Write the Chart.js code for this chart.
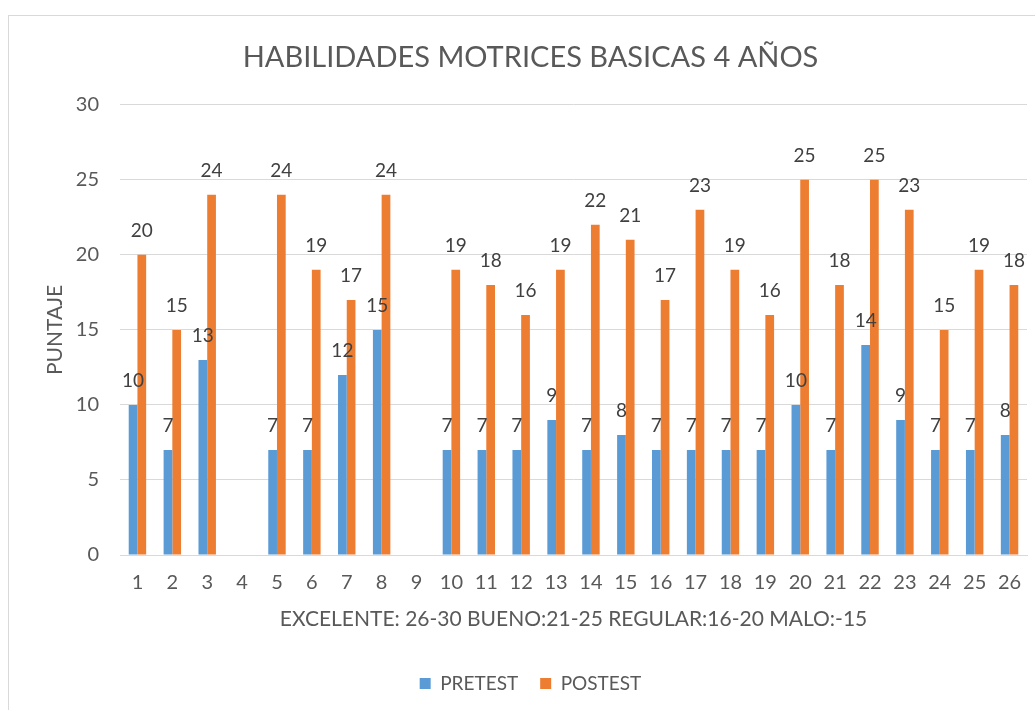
<!DOCTYPE html>
<html>
<head>
<meta charset="utf-8">
<script src="https://cdn.jsdelivr.net/npm/chart.js@4/dist/chart.umd.min.js"></script>
<style>
  html, body { margin: 0; padding: 0; background: #fff; overflow: hidden; }
  #frame {
    position: absolute; left: 8px; top: 15px;
    width: 1043px; height: 710px;
    border: 1px solid #d9d9d9; box-sizing: border-box;
  }
  #wrap { position: absolute; left: 0; top: 0; width: 1043px; height: 695px; }
</style>
</head>
<body>
<div id="frame"><div id="wrap"><canvas id="chart"></canvas></div></div>
<script>
// Chart data
const categories = ['1', '2', '3', '4', '5', '6', '7', '8', '9', '10', '11', '12', '13',
  '14', '15', '16', '17', '18', '19', '20', '21', '22', '23', '24', '25', '26'];
const pretest = [10, 7, 13, null, 7, 7, 12, 15, null, 7, 7, 7, 9,
  7, 8, 7, 7, 7, 7, 10, 7, 14, 9, 7, 7, 8];
const postest = [20, 15, 24, null, 24, 19, 17, 24, null, 19, 18, 16, 19,
  22, 21, 17, 23, 19, 16, 25, 18, 25, 23, 15, 19, 18];
const yTicks = [0, 5, 10, 15, 20, 25, 30];

const FONT = 'Lato, "Open Sans", sans-serif';
const TEXT = '#595959';

// Draw value labels above each bar
const barLabels = {
  id: 'barLabels',
  afterDatasetsDraw(chart) {
    const ctx = chart.ctx;
    ctx.save();
    ctx.font = '19px ' + FONT;
    ctx.fillStyle = '#404040';
    ctx.textAlign = 'center';
    ctx.textBaseline = 'middle';
    chart.data.datasets.forEach((ds, i) => {
      const meta = chart.getDatasetMeta(i);
      meta.data.forEach((bar, j) => {
        const v = ds.data[j];
        if (v === null || v === undefined) return;
        ctx.fillText(String(v), bar.x, bar.y - 24);
      });
    });
    ctx.restore();
  }
};

new Chart(document.getElementById('chart'), {
  type: 'bar',
  data: {
    labels: categories,
    datasets: [
      { label: 'PRETEST', data: pretest, backgroundColor: '#5b9bd5' },
      { label: 'POSTEST', data: postest, backgroundColor: '#ed7d31' }
    ]
  },
  options: {
    responsive: true,
    maintainAspectRatio: false,
    animation: false,
    categoryPercentage: 0.5,
    barPercentage: 1,
    layout: { padding: { top: 10, left: 25, right: 25, bottom: 8 } },
    plugins: {
      title: {
        display: true,
        text: 'HABILIDADES MOTRICES BASICAS 4 AÑOS',
        color: TEXT,
        font: { family: FONT, size: 29, weight: 'normal' },
        padding: { top: 14, bottom: 30 }
      },
      legend: {
        position: 'bottom',
        labels: {
          color: TEXT,
          font: { family: FONT, size: 19 },
          boxWidth: 11,
          boxHeight: 11,
          padding: 22
        }
      },
      tooltip: { enabled: false }
    },
    scales: {
      x: {
        afterFit(axis) { axis.height = 97; },
        grid: { display: false, drawTicks: false },
        border: { display: true, color: '#d9d9d9' },
        ticks: { color: TEXT, font: { family: FONT, size: 20 }, padding: 16, maxRotation: 0, autoSkip: false },
        title: {
          display: true,
          text: 'EXCELENTE: 26-30 BUENO:21-25 REGULAR:16-20 MALO:-15',
          color: TEXT,
          font: { family: FONT, size: 21 },
          padding: { top: 0, bottom: 20 }
        }
      },
      y: {
        min: 0,
        max: 30,
        afterBuildTicks(axis) { axis.ticks = yTicks.map(v => ({ value: v })); },
        afterFit(axis) { axis.width = 86; },
        grid: { color: '#d9d9d9', drawTicks: false },
        border: { display: false },
        ticks: { color: TEXT, font: { family: FONT, size: 20 }, padding: 21 },
        title: {
          display: true,
          text: 'PUNTAJE',
          color: TEXT,
          font: { family: FONT, size: 21 },
          padding: { top: 9, bottom: 0 }
        }
      }
    }
  },
  plugins: [barLabels]
});
</script>
</body>
</html>
